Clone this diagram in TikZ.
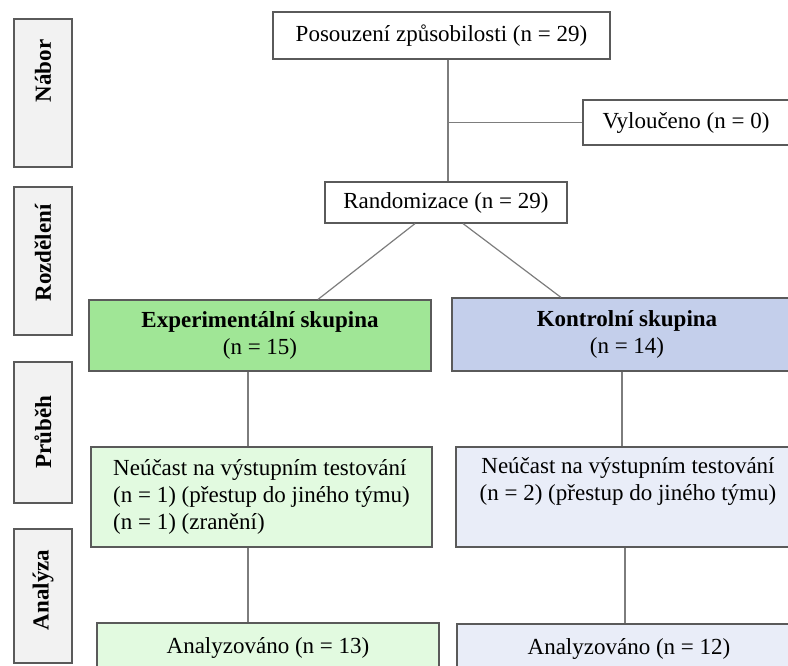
\documentclass[tikz,border=0pt]{standalone}
\usepackage{fontspec}
\setmainfont{Liberation Serif}

\definecolor{boxline}{RGB}{90,90,90}
\definecolor{linegray}{RGB}{125,125,125}
\definecolor{sidegray}{RGB}{242,242,242}
\definecolor{expgreen}{RGB}{160,230,150}
\definecolor{explight}{RGB}{226,250,224}
\definecolor{kongroup}{RGB}{196,207,235}
\definecolor{konlight}{RGB}{233,237,248}

\begin{document}
\begin{tikzpicture}[x=1pt,y=-1pt,
    box/.style={draw=boxline,line width=1.2pt,inner sep=0pt,align=center,
      font=\fontsize{23}{27}\selectfont},
    phase/.style={draw=boxline,fill=sidegray,line width=1.2pt,inner sep=0pt,minimum width=58pt},
    phasetext/.style={rotate=90,inner sep=0pt,font=\fontsize{23}{27}\selectfont\bfseries}]

      \useasboundingbox (0,0) rectangle (788,665);
      \clip (0,0) rectangle (788,665);

      % phases on the left
      \begin{scope}[every node/.style={phase}]
        \node[minimum height=148pt] (nabor)   at (43,93)    {};
        \node[minimum height=148pt] (rozdel)  at (43,261)   {};
        \node[minimum height=141pt] (prubeh)  at (43,432.5) {};
        \node[minimum height=134pt] (analyza) at (43,596)   {};
      \end{scope}

      \begin{scope}[every node/.style={phasetext}]
        \node (nabortxt)   at (43,71)  {Nábor};
        \node (rozdeltxt)  at (43,253) {Rozdělení};
        \node (prubehtxt)  at (43,432) {Průběh};
        \node (analyzatxt) at (43,590) {Analýza};
      \end{scope}

      \begin{scope}[every node/.style={box}]
        \node[minimum width=337pt,minimum height=47pt] (posouz) at (441.5,35.5)
          {Posouzení způsobilosti (n = 29)};
        \node[minimum width=206pt,minimum height=45pt] (vylouc) at (686,122.5)
          {Vyloučeno (n = 0)};
        \node[minimum width=242pt,minimum height=41pt] (random) at (446,202.5)
          {Randomizace (n = 29)};

        \node[fill=expgreen,minimum width=342pt,minimum height=71pt] (expgrp) at (260,335.5)
          {\textbf{Experimentální skupina}\\(n = 15)};
        \node[fill=kongroup,minimum width=350pt,minimum height=73pt] (kongrp) at (627,334.5)
          {\textbf{Kontrolní skupina}\\(n = 14)};

        \node[fill=explight,align=left,minimum width=341pt,minimum height=100pt] (expneu) at (261.5,497)
          {Neúčast na výstupním testování\\(n = 1) (přestup do jiného týmu)\\(n = 1) (zranění)};
        \node[fill=konlight,minimum width=344pt,minimum height=100pt] (konneu) at (628,497)
          {Neúčast na výstupním testování\\(n = 2) (přestup do jiného týmu)\\\strut};

        \node[fill=explight,minimum width=342pt,minimum height=50pt] (expana) at (268,648)
          {Analyzováno (n = 13)};
        \node[fill=konlight,minimum width=344pt,minimum height=50pt] (konana) at (629,649)
          {Analyzováno (n = 12)};
      \end{scope}

      \coordinate (split) at (448,122.5);
      \coordinate (lx)  at (248,0);
      \coordinate (rx)  at (622,0);
      \coordinate (rx2) at (625,0);

      \begin{scope}[every edge/.style={draw=linegray,line width=1.2pt}]
        \path (posouz.south -| split) edge (random.north -| split);
        \path (split) edge (vylouc.west);
        \path ([xshift=-31pt]random.south) edge ([xshift=58pt]expgrp.north);
        \path ([xshift=17pt]random.south)  edge ([xshift=-66pt]kongrp.north);
        \path (expgrp.south -| lx)  edge (expneu.north -| lx);
        \path (kongrp.south -| rx)  edge (konneu.north -| rx);
        \path (expneu.south -| lx)  edge (expana.north -| lx);
        \path (konneu.south -| rx2) edge (konana.north -| rx2);
      \end{scope}

    \end{tikzpicture}
\end{document}
